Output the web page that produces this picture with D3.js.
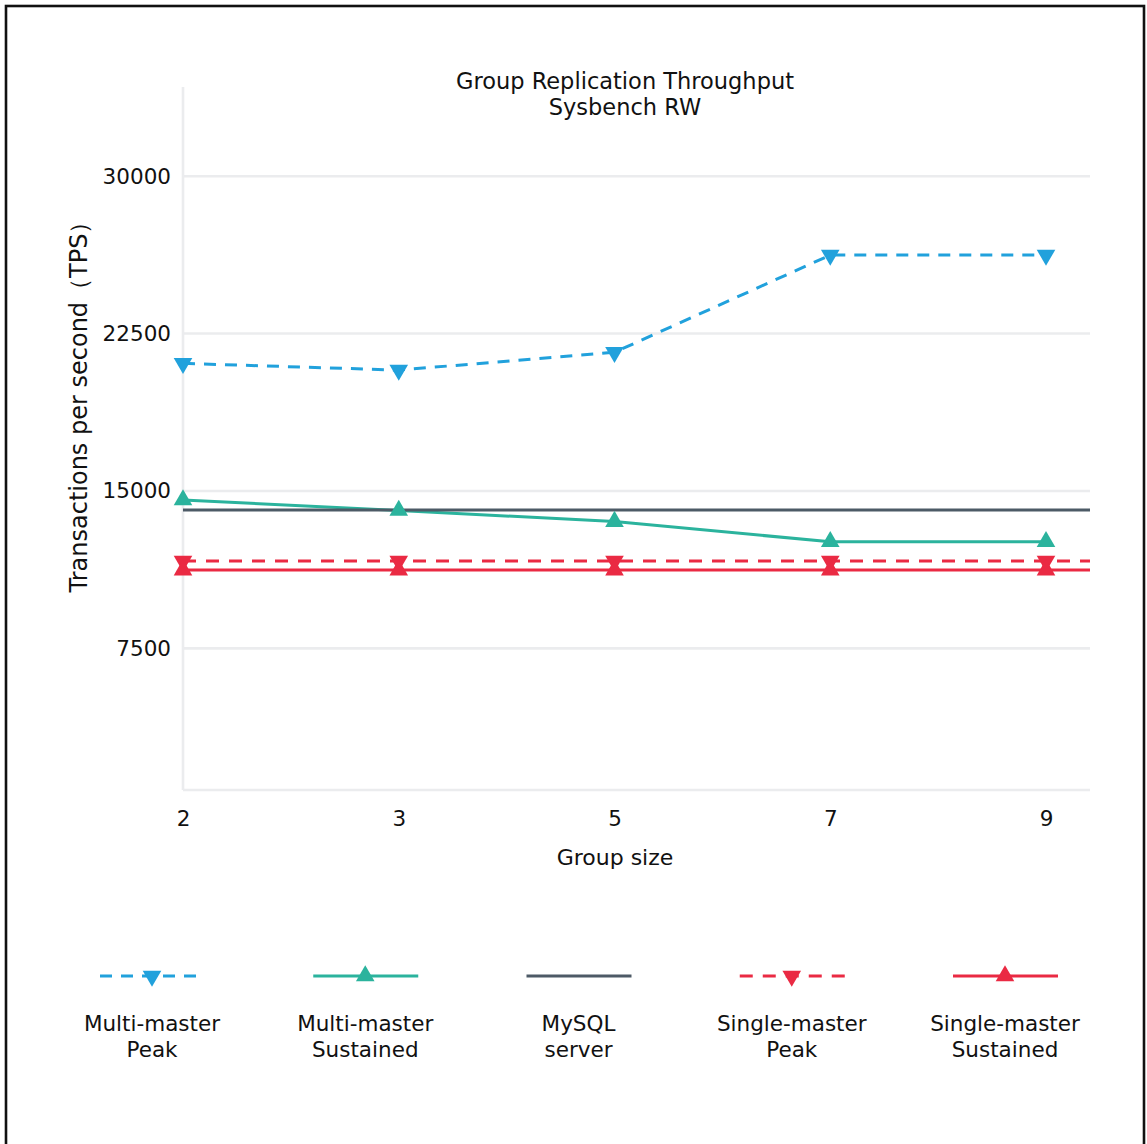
<!DOCTYPE html>
<html>
<head>
<meta charset="utf-8">
<script src="https://cdn.jsdelivr.net/npm/d3@7"></script>
<style>
  html, body { margin: 0; padding: 0; background: #fff; }
  svg { display: block; }
  text { font-family: "DejaVu Sans", "Noto Sans", sans-serif; fill: #111; }
</style>
</head>
<body>
<svg id="chart" width="1147" height="1144"></svg>
<script>
// ---- data ----
const groupSizes = ["2", "3", "5", "7", "9"];
const yTickValues = [7500, 15000, 22500, 30000];
const multiMasterPeak = [21080, 20760, 21610, 26240, 26240];
const multiMasterSustained = [14570, 14070, 13540, 12580, 12580];
const mysqlServer = [14090, 14090, 14090, 14090, 14090];
const singleMasterPeak = [11660, 11660, 11660, 11660, 11660];
const singleMasterSustained = [11230, 11230, 11230, 11230, 11230];
const seriesNames = [["Multi-master", "Peak"], ["Multi-master", "Sustained"], ["MySQL", "server"], ["Single-master", "Peak"], ["Single-master", "Sustained"]];

// ---- styling / layout ----
const plot = { left: 183, right: 1090, top: 87, bottom: 790, lastX: 1046 };
const series = [
  { values: multiMasterPeak, color: "#21a1dc", dash: "12,9", marker: "down", extend: false },
  { values: multiMasterSustained, color: "#2bb39d", dash: null, marker: "up", extend: false },
  { values: mysqlServer, color: "#4d5a66", dash: null, marker: null, extend: true },
  { values: singleMasterPeak, color: "#ea2a43", dash: "13,10", marker: "down", extend: true },
  { values: singleMasterSustained, color: "#ea2a43", dash: null, marker: "up", extend: true }
];

const svg = d3.select("#chart");

// frame
svg.append("rect").attr("x", 6).attr("y", 6).attr("width", 1138).attr("height", 1160)
  .attr("fill", "none").attr("stroke", "#111").attr("stroke-width", 2.6);

const x = d3.scalePoint().domain(groupSizes).range([plot.left, plot.lastX]);
const y = d3.scaleLinear().domain([750, 34250]).range([plot.bottom, plot.top]);

const grid = "#ebecee";
// gridlines
svg.append("g").selectAll("line").data(yTickValues).join("line")
  .attr("x1", plot.left).attr("x2", plot.right)
  .attr("y1", d => y(d)).attr("y2", d => y(d))
  .attr("stroke", grid).attr("stroke-width", 2.6);

// y axis
const yAxis = svg.append("g").attr("transform", `translate(${plot.left},0)`)
  .call(d3.axisLeft(y).tickValues(yTickValues).tickSize(0).tickPadding(12).tickFormat(d3.format("d")));
yAxis.select(".domain").remove();
yAxis.selectAll("text").attr("font-size", 21.5).attr("font-family", "'DejaVu Sans', sans-serif").attr("fill", "#111");
svg.append("line").attr("x1", plot.left).attr("x2", plot.left).attr("y1", plot.top).attr("y2", plot.bottom)
  .attr("stroke", grid).attr("stroke-width", 2.6);

// x axis
const xAxis = svg.append("g").attr("transform", `translate(0,${plot.bottom})`)
  .call(d3.axisBottom(x).tickSize(0).tickPadding(21));
xAxis.select(".domain").remove();
xAxis.selectAll("text").attr("font-size", 21.5).attr("font-family", "'DejaVu Sans', sans-serif").attr("fill", "#111");
svg.append("line").attr("x1", plot.left).attr("x2", plot.right).attr("y1", plot.bottom).attr("y2", plot.bottom)
  .attr("stroke", grid).attr("stroke-width", 2.6);

// titles
svg.append("text").attr("x", 625).attr("y", 89).attr("text-anchor", "middle").attr("font-size", 22.5).text("Group Replication Throughput");
svg.append("text").attr("x", 625).attr("y", 115).attr("text-anchor", "middle").attr("font-size", 22.5).text("Sysbench RW");
svg.append("text").attr("transform", "translate(87,401) rotate(-90)").attr("text-anchor", "middle").attr("font-size", 24)
  .text("Transactions per second（TPS）");
svg.append("text").attr("x", 615).attr("y", 865).attr("text-anchor", "middle").attr("font-size", 22).text("Group size");

const triUp = d3.symbol().type(d3.symbolTriangle).size(150);
function drawMarker(g, type, cx, cy, color) {
  if (!type) return;
  g.append("path").attr("d", triUp())
    .attr("transform", `translate(${cx},${cy})` + (type === "down" ? " rotate(180)" : ""))
    .attr("fill", color);
}

// series lines
const linesG = svg.append("g");
series.forEach(s => {
  const pts = groupSizes.map((g, i) => [x(g), y(s.values[i])]);
  if (s.extend) pts.push([plot.right, y(s.values[s.values.length - 1])]);
  linesG.append("path")
    .attr("d", d3.line()(pts))
    .attr("fill", "none").attr("stroke", s.color).attr("stroke-width", 3)
    .attr("stroke-dasharray", s.dash);
});
// markers on top
const markersG = svg.append("g");
series.forEach(s => {
  groupSizes.forEach((g, i) => drawMarker(markersG, s.marker, x(g), y(s.values[i]), s.color));
});

// legend
const lx = d3.scalePoint().domain(d3.range(seriesNames.length)).range([152, 1005]);
const legendY = 976;
const legend = svg.append("g");
series.forEach((s, i) => {
  const cx = lx(i);
  legend.append("line").attr("x1", cx - 52).attr("x2", cx + 53).attr("y1", legendY).attr("y2", legendY)
    .attr("stroke", s.color).attr("stroke-width", 3).attr("stroke-dasharray", s.dash);
  drawMarker(legend, s.marker, cx, legendY, s.color);
  const t = legend.append("text").attr("x", cx).attr("y", 1031).attr("text-anchor", "middle").attr("font-size", 21.5);
  t.append("tspan").attr("x", cx).text(seriesNames[i][0]);
  t.append("tspan").attr("x", cx).attr("dy", 26).text(seriesNames[i][1]);
});
</script>
</body>
</html>
